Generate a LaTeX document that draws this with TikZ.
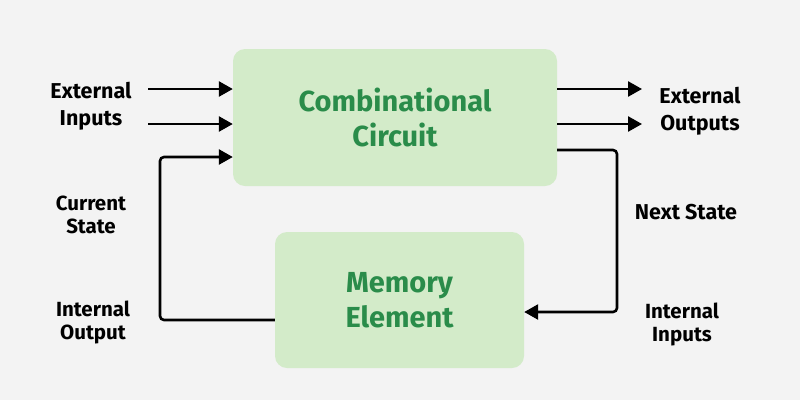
\documentclass[tikz,border=0pt]{standalone}
\usepackage{fontspec}
\setmainfont{Fira Sans}
\usetikzlibrary{arrows.meta}
\definecolor{bg}{HTML}{F3F3F3}
\definecolor{boxfill}{HTML}{D3EBC9}
\definecolor{boxtext}{HTML}{2A8C4A}
\begin{document}
\begin{tikzpicture}[x=1pt,y=-1pt,
  box/.style={fill=boxfill,rounded corners=12pt,draw=none,text=boxtext,font=\fontsize{29}{35}\selectfont\bfseries,align=center,inner sep=0pt},
  lbl/.style={font=\fontsize{21.5}{27}\selectfont\bfseries,align=center,text=black},
  lbls/.style={font=\fontsize{20.5}{23}\selectfont\bfseries,align=center,text=black},
  conn/.style={line width=2.6pt,-{Triangle[length=14pt,width=15pt]},rounded corners=4pt}]
\fill[bg] (0,0) rectangle (800,400);
\useasboundingbox (0,0) rectangle (800,400);
\node[box,minimum width=324pt,minimum height=137pt] (cc) at (395,117.5) {Combinational\\Circuit};
\node[box,minimum width=249pt,minimum height=136pt] (me) at (399.5,300) {Memory\\Element};
\coordinate (i1) at (148,89);
\coordinate (i2) at (148,124);
\coordinate (o1) at (642,89);
\coordinate (o2) at (642,124);
\draw[conn] (i1) -- (i1 -| cc.west);
\draw[conn] (i2) -- (i2 -| cc.west);
\draw[conn] (o1 -| cc.east) -- (o1);
\draw[conn] (o2 -| cc.east) -- (o2);
\draw[conn] (me.west |- 0,320) -- (160,320) -- (160,157) -- (cc.west |- 0,157);
\draw[conn] (cc.east |- 0,150) -- (617,150) -- (617,312) -- (me.east |- 0,312);
\node[lbl] (ei) at (91,106) {External\\Inputs};
\node[lbl] (eo) at (700,111) {External\\Outputs};
\node[lbls] (cs) at (91,215) {Current\\State};
\node[lbls] (io) at (93,322) {Internal\\Output};
\node[lbl] (ns) at (686,212) {Next State};
\node[lbls] (ii) at (682,324) {Internal\\Inputs};
\end{tikzpicture}
\end{document}
